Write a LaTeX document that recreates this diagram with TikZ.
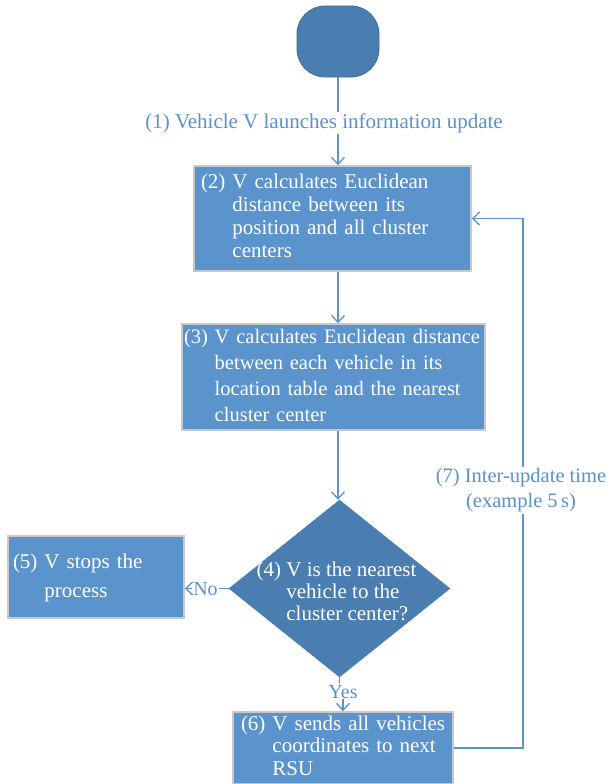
\documentclass[tikz,border=0pt]{standalone}
\usepackage{fontspec}
\setmainfont{Liberation Serif}
\usetikzlibrary{arrows.meta,shapes.geometric}
\definecolor{boxblue}{HTML}{5B94CD}
\definecolor{darkblue}{HTML}{4A7EB1}
\definecolor{lineblue}{HTML}{5B93CB}
\definecolor{labblue}{HTML}{5A90CC}
\definecolor{boxedge}{HTML}{C8C8C8}
\begin{document}
\begin{tikzpicture}[x=1pt,y=-1pt,
  box/.style={rectangle, fill=boxblue, draw=boxedge, line width=1.5pt, text=white,
    align=left, inner ysep=0pt, font=\fontsize{21}{23}\selectfont},
  flow/.style={draw=lineblue, line width=1.3pt},
  arr/.style={flow, -{Straight Barb[length=7pt,width=13pt,line width=1.3pt]}},
  lab/.style={text=labblue, font=\fontsize{21}{23}\selectfont, inner sep=1.5pt}]
\useasboundingbox (0,0) rectangle (610,784);

% start terminal
\node[rectangle, rounded corners=28pt, fill=darkblue, draw=darkblue!85!black, line width=0.8pt,
  minimum width=82pt, minimum height=71pt, inner sep=0pt] (start) at (338,41.5) {};

% label (1)
\node[lab, anchor=base] (lab1) at (324,128) {(1) Vehicle V launches information update};

% box 2
\node[box, minimum width=277pt, minimum height=105pt, inner xsep=7pt, text width=263pt] (box2) at (332.5,218.5)
  {\begin{tabular}{@{}l@{\ }l@{}}(2)&V calculates Euclidean\\&distance between its\\&position and all cluster\\&centers\end{tabular}};

% box 3
\node[box, minimum width=303pt, minimum height=106pt, inner xsep=2pt, text width=299pt,
  font=\fontsize{20.5}{26}\selectfont] (box3) at (333.5,377)
  {\begin{tabular}{@{}l@{\ }l@{}}(3)&V calculates Euclidean distance\\&between each vehicle in its\\&location table and the nearest\\&cluster center\end{tabular}};

% decision
\node[diamond, fill=darkblue, draw=darkblue, line width=0.5pt, minimum width=221pt, minimum height=177pt,
  inner sep=0pt, text=white, font=\fontsize{21}{22}\selectfont] (dec) at (339.5,588.5)
  {\makebox[0pt]{\hspace{-6pt}\raisebox{-11pt}[0pt][0pt]{\begin{tabular}{@{}l@{\ }l@{}}(4)&V is the nearest\\&vehicle to the\\&cluster center?\end{tabular}}}};

% box 5
\node[box, minimum width=176pt, minimum height=82pt, inner xsep=5pt, text width=166pt,
  font=\fontsize{21}{29}\selectfont] (box5) at (96,577)
  {\begin{tabular}{@{}l@{\ }l@{}}(5)&V stops the\\&process\end{tabular}};

% box 6
\node[box, minimum width=220pt, minimum height=72pt, inner xsep=8pt, text width=204pt,
  font=\fontsize{21}{22.5}\selectfont] (box6) at (343,748)
  {\begin{tabular}{@{}l@{\ }l@{}}(6)&V sends all vehicles\\&coordinates to next\\&RSU\end{tabular}};

% labels
\node[lab, anchor=base, font=\fontsize{20}{22}\selectfont, inner sep=1pt] (no) at (205.5,595.5) {No};
\node[lab, anchor=base, font=\fontsize{20}{22}\selectfont, inner sep=1pt] (yes) at (343,698) {Yes};

% connectors
\draw[flow] (start.south) -- (start.south |- lab1.north);
\draw[arr] (start.south |- lab1.south) -- (start.south |- box2.north);
\draw[arr] (box2.south -| start.south) -- (box3.north -| start.south);
\draw[arr] (box3.south -| start.south) -- (dec.north -| start.south);
\draw[flow] (dec.west) -- (dec.west -| no.east);
\draw[arr] (dec.west -| no.west) -- (dec.west -| box5.east);
\draw[flow] (dec.south) -- (dec.south |- yes.north);
\draw[arr] (yes.south) -- (yes.south |- box6.north);
\coordinate (fbx) at (523,0);
\draw[arr] (box6.east) -- (box6.east -| fbx) -- (box2.east -| fbx) -- (box2.east);

% label (7) on feedback line
\node[lab, fill=white, align=center, inner sep=2pt, font=\fontsize{20.5}{25}\selectfont] (lab7) at (521,490.5)
  {(7) Inter-update time\\(example 5\,s)};
\end{tikzpicture}
\end{document}
